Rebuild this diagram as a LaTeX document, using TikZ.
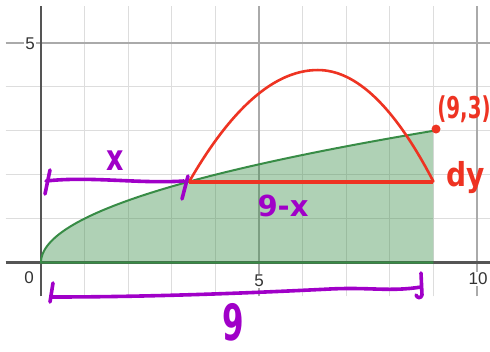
\documentclass[tikz,border=0pt]{standalone}
\usepackage{fontspec}
\setmainfont{Liberation Sans}
\newfontfamily\hand{DejaVu Sans}
\definecolor{gridminor}{HTML}{DDDDDD}
\definecolor{gridmajor}{HTML}{AAAAAA}
\definecolor{axisgrey}{HTML}{555555}
\definecolor{labgrey}{HTML}{333333}
\definecolor{dgreen}{HTML}{388C46}
\definecolor{hred}{HTML}{EE3322}
\definecolor{hpurple}{HTML}{A000C8}
\begin{document}
\begin{tikzpicture}[x=1pt,y=-1pt,
  minorline/.style={draw=gridminor,line width=1pt},
  majorline/.style={draw=gridmajor,line width=1.3pt},
  axisline/.style={draw=axisgrey,line width=2.2pt},
  axlab/.style={fill=white,inner sep=1.2pt,text=labgrey,font=\fontsize{17}{17}\selectfont},
  pen/.style={draw=hpurple,line width=3.6pt,line cap=round,line join=round},
  redpen/.style={draw=hred,line width=2.6pt,line cap=round,line join=round},
  purplab/.style={text=hpurple,inner sep=0pt},
  redlab/.style={text=hred,inner sep=0pt}]
\useasboundingbox (0,0) rectangle (490,351);
\fill[white] (0,0) rectangle (490,351);
\begin{scope}[shift={(41pt,-262.5pt)},x=43.6pt,y=43.9pt]
  % grid
  \foreach \i in {1,2,3,4,6,7,8,9} \draw[minorline] (\i,-0.77) -- (\i,5.84);
  \foreach \j in {1,2,3,4} \draw[minorline] (-0.81,\j) -- (10.3,\j);
  \foreach \i in {5,10} \draw[majorline] (\i,-0.77) -- (\i,5.84);
  \draw[majorline] (-0.81,5) -- (10.3,5);
  % axes
  \draw[axisline] (-0.81,0) -- (10.3,0);
  \draw[axisline] (0,-0.77) -- (0,5.84);
  % region under sqrt(x)
  \fill[dgreen,fill opacity=0.4] (0,0) -- plot[domain=0:3,samples=80] ({\x*\x},\x) -- (9,0) -- cycle;
  \draw[dgreen,line width=2pt] (9,0) -- (0,0) -- plot[domain=0:3,samples=80] ({\x*\x},\x);
  % red strip and arch
  \coordinate (sl) at (3.4,1.844);
  \coordinate (sr) at (9,1.844);
  \draw[hred,line width=4pt] (sl) -- (sr);
  \draw[redpen] plot[domain=3.4:6.35,samples=50] (\x,{1.844+2.54*(1-((\x-6.35)/2.95)^2)})
                -- plot[domain=6.35:9,samples=50] (\x,{1.844+2.54*(1-((\x-6.35)/2.65)^2)});
  \node[circle,fill=hred,inner sep=0pt,minimum size=9pt] (pt) at (9.06,3.04) {};
\end{scope}
% axis labels
\node[axlab] (ly5) at (30,44) {5};
\node[axlab] (l0) at (29,278) {0};
\node[axlab] (lx5) at (259,281) {5};
\node[axlab] (lx10) at (478,279) {10};
% purple bracket for x
\coordinate (tbl) at (46,181);
\coordinate (tbr) at (184,181);
\coordinate (tlt) at (50,170);
\coordinate (tlb) at (45,194);
\coordinate (trt) at (188,176);
\coordinate (trb) at (182,199);
\draw[pen] (tbl) .. controls (90,176) and (140,184) .. (tbr);
\draw[pen] (tlt) -- (tlb);
\draw[pen] (trt) -- (trb);
% purple bracket for 9
\coordinate (bbl) at (52,297);
\coordinate (bbm) at (330,289);
\coordinate (bbr) at (421,287);
\coordinate (blt) at (53,283);
\coordinate (blb) at (50,302);
\coordinate (brt) at (421,273);
\coordinate (brb) at (422,295);
\coordinate (brc) at (416,295);
\draw[pen] (bbl) .. controls (150,297) and (250,293) .. (bbm) .. controls (370,287) and (390,292) .. (bbr);
\draw[pen] (blt) -- (blb);
\draw[pen] (brt) -- (brb) .. controls (421,299) and (417,298) .. (brc);
% handwritten labels
\node[purplab,xscale=0.75] (lx) at (115,161) {\hand\bfseries\fontsize{36}{36}\selectfont x};
\node[purplab] (l9x) at (283,206) {\hand\bfseries\fontsize{29}{29}\selectfont 9-x};
\node[purplab,xscale=0.62] (l9) at (233,322) {\hand\bfseries\fontsize{50}{50}\selectfont 9};
\node[redlab,xscale=0.66] (l93) at (464,109) {\hand\bfseries\fontsize{30}{30}\selectfont (9,3)};
\node[redlab,xscale=0.85] (ldy) at (466,178) {\hand\bfseries\fontsize{33}{33}\selectfont dy};
\end{tikzpicture}
\end{document}
